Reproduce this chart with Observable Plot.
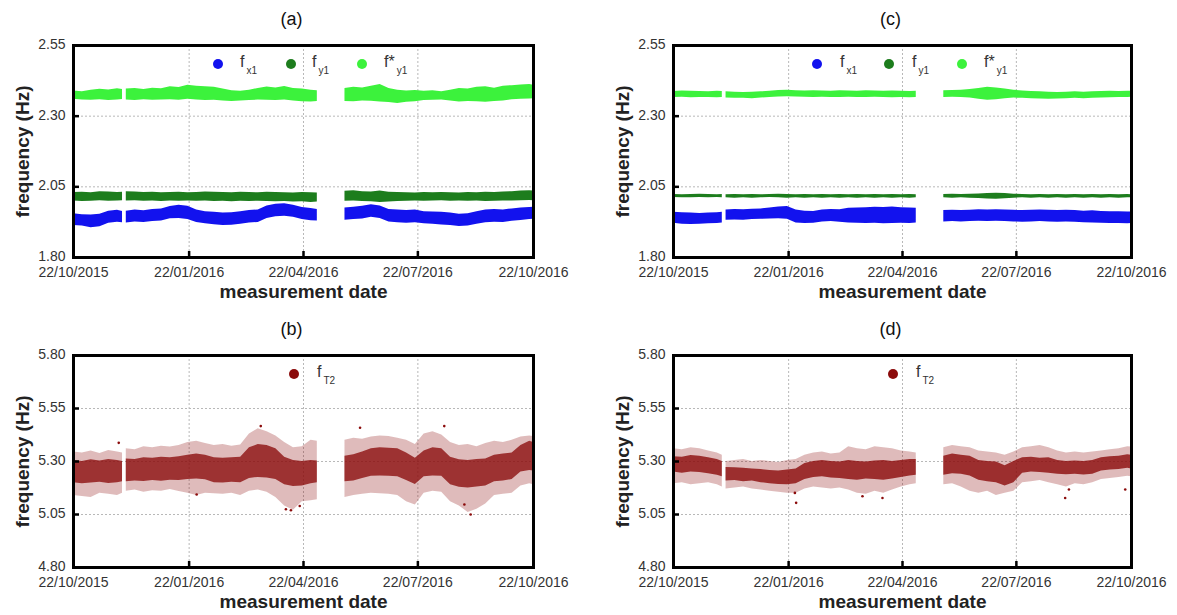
<!DOCTYPE html>
<html><head><meta charset="utf-8">
<script src="https://cdn.jsdelivr.net/npm/d3@7"></script>
<script src="https://cdn.jsdelivr.net/npm/@observablehq/plot@0.6"></script>
<style>
body{margin:0;background:#fff;font-family:"Liberation Sans",Arial,sans-serif;}
#wrap{position:relative;width:1177px;height:615px;overflow:hidden;background:#fff;}
.panel{position:absolute;}
.leg{position:absolute;font-size:16px;line-height:16px;color:#333;white-space:nowrap;}
.leg .s{position:relative;top:7px;font-size:10px;margin-left:2px;}
.dot{position:absolute;width:10px;height:10px;border-radius:50%;}
</style></head><body><div id="wrap"></div>
<script>
// ---------------- data ----------------
const dates = ["2015-10-22","2015-10-29","2015-11-05","2015-11-12","2015-11-19","2015-11-26","2015-11-30","2015-12-01",
"2015-12-03","2015-12-10","2015-12-17","2015-12-24","2015-12-31","2016-01-07","2016-01-14","2016-01-21","2016-01-28",
"2016-02-04","2016-02-11","2016-02-18","2016-02-25","2016-03-03","2016-03-10","2016-03-17","2016-03-24","2016-03-31",
"2016-04-07","2016-04-14","2016-04-21","2016-04-28","2016-05-03","2016-05-14",
"2016-05-25","2016-06-01","2016-06-08","2016-06-15","2016-06-22","2016-06-29","2016-07-06","2016-07-13","2016-07-20",
"2016-07-27","2016-08-03","2016-08-10","2016-08-17","2016-08-24","2016-08-31","2016-09-07","2016-09-14","2016-09-21",
"2016-09-28","2016-10-05","2016-10-12","2016-10-19","2016-10-22"];

const xTickDates = ["2015-10-22","2016-01-22","2016-04-22","2016-07-22","2016-10-22"];
const yTicksTop = [1.80, 2.05, 2.30, 2.55];
const yTicksBottom = [4.80, 5.05, 5.30, 5.55, 5.80];

// panel (a)
const a_fstar_hi = [2.389,2.386,2.392,2.395,2.393,2.397,2.394,null,
2.396,2.398,2.394,2.399,2.397,2.404,2.401,2.409,2.406,2.404,2.402,2.396,2.390,2.388,2.392,2.398,2.403,2.400,2.405,2.398,2.396,2.392,2.390,null,
2.398,2.402,2.400,2.406,2.412,2.398,2.392,2.389,2.391,2.388,2.390,2.386,2.392,2.398,2.396,2.402,2.404,2.399,2.406,2.408,2.410,2.412,2.409];
const a_fstar_lo = [2.360,2.357,2.356,2.358,2.355,2.357,2.359,null,
2.357,2.355,2.358,2.356,2.357,2.358,2.356,2.360,2.357,2.355,2.356,2.354,2.352,2.354,2.355,2.357,2.356,2.355,2.357,2.354,2.351,2.350,2.352,null,
2.352,2.351,2.354,2.353,2.350,2.348,2.345,2.349,2.351,2.355,2.356,2.357,2.354,2.350,2.352,2.351,2.349,2.352,2.354,2.358,2.360,2.361,2.362];
const a_fy1_hi = [2.030,2.031,2.029,2.033,2.032,2.030,2.031,null,
2.033,2.032,2.030,2.031,2.029,2.030,2.031,2.029,2.030,2.032,2.031,2.030,2.029,2.031,2.030,2.029,2.031,2.030,2.029,2.028,2.030,2.029,2.028,null,
2.034,2.036,2.033,2.032,2.035,2.031,2.030,2.029,2.028,2.030,2.029,2.030,2.029,2.028,2.030,2.029,2.031,2.030,2.032,2.033,2.035,2.036,2.035];
const a_fy1_lo = [2.000,1.998,1.999,2.001,1.999,2.000,2.001,null,
2.000,2.001,1.999,2.000,1.998,2.000,1.999,2.000,1.999,2.000,1.998,1.999,1.997,1.999,1.998,1.999,1.998,1.997,1.998,1.996,1.997,1.995,1.996,null,
1.999,2.000,1.998,1.997,1.995,1.996,1.998,1.999,2.000,1.999,2.000,2.001,1.999,2.000,1.999,2.000,1.998,1.999,2.000,2.000,2.001,2.002,2.001];
const a_fx1_hi = [1.955,1.951,1.950,1.953,1.964,1.967,1.963,null,
1.964,1.968,1.965,1.970,1.972,1.980,1.985,1.981,1.968,1.962,1.960,1.957,1.958,1.962,1.966,1.968,1.982,1.988,1.990,1.985,1.977,1.973,1.970,null,
1.975,1.978,1.981,1.987,1.982,1.970,1.968,1.966,1.968,1.962,1.961,1.960,1.957,1.953,1.955,1.962,1.968,1.970,1.968,1.972,1.975,1.977,1.978];
const a_fx1_lo = [1.913,1.911,1.905,1.909,1.921,1.925,1.923,null,
1.922,1.926,1.924,1.927,1.929,1.937,1.938,1.934,1.924,1.919,1.916,1.913,1.914,1.918,1.922,1.924,1.938,1.944,1.946,1.942,1.934,1.930,1.929,null,
1.932,1.934,1.936,1.942,1.938,1.926,1.923,1.921,1.923,1.919,1.918,1.915,1.913,1.910,1.911,1.918,1.923,1.925,1.924,1.928,1.931,1.934,1.935];

// panel (c)
const c_fstar_hi = [2.387,2.389,2.388,2.387,2.386,2.388,2.387,null,
2.386,2.385,2.384,2.385,2.386,2.388,2.391,2.392,2.390,2.389,2.390,2.389,2.388,2.390,2.389,2.388,2.390,2.389,2.388,2.389,2.388,2.387,2.388,null,
2.390,2.391,2.392,2.394,2.398,2.402,2.400,2.396,2.392,2.389,2.387,2.386,2.385,2.384,2.385,2.386,2.385,2.386,2.387,2.388,2.387,2.388,2.388];
const c_fstar_lo = [2.366,2.367,2.365,2.366,2.366,2.365,2.366,null,
2.364,2.363,2.363,2.362,2.364,2.366,2.368,2.369,2.368,2.367,2.366,2.367,2.366,2.366,2.367,2.366,2.366,2.367,2.366,2.365,2.366,2.365,2.366,null,
2.366,2.367,2.366,2.364,2.360,2.356,2.358,2.362,2.364,2.363,2.362,2.361,2.360,2.361,2.362,2.363,2.362,2.363,2.364,2.365,2.366,2.366,2.367];
const c_fy1_hi = [2.023,2.022,2.023,2.024,2.023,2.022,2.023,null,
2.022,2.023,2.022,2.023,2.022,2.023,2.024,2.023,2.022,2.023,2.022,2.023,2.022,2.023,2.022,2.023,2.022,2.023,2.022,2.023,2.022,2.023,2.022,null,
2.023,2.024,2.023,2.024,2.025,2.026,2.027,2.026,2.024,2.023,2.022,2.023,2.022,2.023,2.022,2.023,2.022,2.023,2.022,2.023,2.022,2.023,2.022];
const c_fy1_lo = [2.012,2.011,2.011,2.012,2.011,2.012,2.011,null,
2.011,2.010,2.011,2.010,2.011,2.012,2.011,2.010,2.011,2.010,2.011,2.010,2.011,2.010,2.011,2.010,2.011,2.010,2.011,2.010,2.011,2.010,2.011,null,
2.011,2.010,2.011,2.010,2.009,2.007,2.006,2.008,2.010,2.011,2.010,2.011,2.010,2.011,2.010,2.011,2.010,2.011,2.010,2.011,2.010,2.011,2.011];
const c_fx1_hi = [1.960,1.958,1.957,1.956,1.957,1.958,1.960,null,
1.968,1.970,1.969,1.971,1.972,1.975,1.979,1.980,1.968,1.964,1.963,1.968,1.970,1.969,1.974,1.975,1.976,1.978,1.977,1.979,1.976,1.975,1.974,null,
1.966,1.967,1.966,1.967,1.969,1.968,1.969,1.968,1.967,1.966,1.967,1.968,1.967,1.966,1.967,1.966,1.964,1.965,1.963,1.962,1.962,1.961,1.961];
const c_fx1_lo = [1.921,1.918,1.917,1.918,1.919,1.920,1.922,null,
1.932,1.933,1.932,1.934,1.935,1.936,1.937,1.935,1.922,1.920,1.921,1.926,1.927,1.925,1.922,1.921,1.920,1.921,1.919,1.920,1.921,1.920,1.922,null,
1.926,1.927,1.926,1.927,1.928,1.927,1.928,1.927,1.926,1.925,1.926,1.927,1.926,1.925,1.926,1.925,1.923,1.922,1.921,1.920,1.920,1.919,1.920];

// panel (b)
const b_outer_hi = [5.345,5.340,5.350,5.338,5.352,5.345,5.340,null,
5.360,5.355,5.370,5.365,5.372,5.368,5.375,5.390,5.395,5.385,5.375,5.380,5.372,5.378,5.430,5.455,5.440,5.420,5.390,5.365,5.370,5.400,5.395,null,
5.400,5.410,5.405,5.415,5.420,5.418,5.410,5.400,5.380,5.430,5.440,5.425,5.390,5.375,5.380,5.370,5.385,5.395,5.390,5.400,5.415,5.420,5.418];
const b_core_hi = [5.305,5.300,5.308,5.302,5.310,5.305,5.300,null,
5.312,5.310,5.318,5.315,5.320,5.318,5.322,5.330,5.335,5.330,5.318,5.315,5.318,5.320,5.365,5.380,5.375,5.360,5.320,5.305,5.300,5.305,5.302,null,
5.325,5.332,5.345,5.360,5.365,5.362,5.360,5.340,5.315,5.350,5.365,5.360,5.320,5.308,5.305,5.310,5.312,5.330,5.335,5.340,5.375,5.395,5.390];
const b_core_lo = [5.200,5.195,5.198,5.202,5.196,5.200,5.205,null,
5.205,5.208,5.206,5.210,5.207,5.212,5.210,5.215,5.218,5.214,5.200,5.198,5.202,5.200,5.220,5.225,5.222,5.215,5.190,5.182,5.185,5.195,5.200,null,
5.205,5.208,5.220,5.230,5.232,5.230,5.228,5.210,5.192,5.228,5.232,5.230,5.190,5.178,5.175,5.180,5.185,5.205,5.208,5.215,5.250,5.258,5.255];
const b_outer_lo = [5.140,5.135,5.130,5.150,5.145,5.140,5.150,null,
5.160,5.165,5.155,5.162,5.160,5.168,5.158,5.150,5.140,5.150,5.148,5.145,5.150,5.140,5.160,5.165,5.155,5.130,5.090,5.070,5.110,5.115,5.120,null,
5.130,5.140,5.145,5.150,5.148,5.145,5.140,5.110,5.095,5.150,5.160,5.155,5.110,5.090,5.060,5.075,5.100,5.140,5.145,5.150,5.185,5.195,5.190];
const b_out_dates = ["2015-11-27","2016-01-28","2016-03-19","2016-04-08","2016-04-12","2016-04-19","2016-06-06","2016-08-12","2016-08-28","2016-09-02"];
const b_out_vals = [5.388,5.144,5.467,5.075,5.070,5.090,5.459,5.467,5.097,5.050];

// panel (d)
const d_outer_hi = [5.360,5.355,5.365,5.360,5.350,5.340,5.330,null,
5.300,5.305,5.310,5.300,5.305,5.300,5.295,5.305,5.310,5.330,5.340,5.345,5.335,5.340,5.370,5.360,5.355,5.370,5.365,5.360,5.350,5.345,5.340,null,
5.365,5.375,5.370,5.365,5.350,5.345,5.340,5.330,5.345,5.365,5.370,5.375,5.365,5.350,5.340,5.345,5.340,5.345,5.350,5.355,5.360,5.370,5.368];
const d_core_hi = [5.322,5.320,5.328,5.325,5.318,5.310,5.300,null,
5.272,5.270,5.268,5.265,5.262,5.258,5.255,5.260,5.265,5.290,5.300,5.305,5.300,5.298,5.305,5.300,5.298,5.302,5.305,5.300,5.305,5.310,5.310,null,
5.325,5.335,5.330,5.325,5.305,5.300,5.298,5.280,5.300,5.318,5.320,5.315,5.318,5.305,5.300,5.302,5.300,5.305,5.318,5.322,5.325,5.332,5.330];
const d_core_lo = [5.250,5.245,5.250,5.248,5.242,5.235,5.228,null,
5.208,5.210,5.205,5.208,5.200,5.195,5.192,5.190,5.195,5.215,5.225,5.228,5.222,5.220,5.215,5.212,5.218,5.215,5.212,5.218,5.225,5.232,5.235,null,
5.235,5.242,5.240,5.232,5.212,5.205,5.200,5.185,5.200,5.245,5.250,5.248,5.245,5.240,5.238,5.240,5.236,5.240,5.255,5.260,5.262,5.268,5.265];
const d_outer_lo = [5.195,5.200,5.190,5.195,5.200,5.190,5.180,null,
5.170,5.175,5.180,5.170,5.165,5.160,5.155,5.150,5.150,5.170,5.180,5.175,5.170,5.175,5.165,5.150,5.145,5.160,5.150,5.165,5.180,5.190,5.195,null,
5.190,5.195,5.180,5.160,5.150,5.160,5.140,5.150,5.160,5.200,5.205,5.210,5.200,5.190,5.180,5.195,5.190,5.200,5.215,5.220,5.225,5.230,5.228];
const d_out_dates = ["2016-01-27","2016-01-28","2016-03-21","2016-04-06","2016-08-30","2016-09-02","2016-10-17"];
const d_out_vals = [5.152,5.105,5.136,5.128,5.128,5.168,5.168];

// ---------------- styling ----------------
const C = {fx1: "#1212ee", fy1: "#1d7d1d", fstar: "#3cf23c", fT2: "#8b0b0b"};
const FONT = "'Liberation Sans', Arial, sans-serif";
const parse = d3.utcParse("%Y-%m-%d");
const fmtDate = d3.utcFormat("%d/%m/%Y");
const xTicks = xTickDates.map(parse);

function rows(lo, hi) { return dates.map((d, i) => ({date: parse(d), lo: lo[i], hi: hi[i]})); }
function pts(ds, vs) { return ds.map((d, i) => ({date: parse(d), v: vs[i]})); }

function makePanel(cfg) {
  const yT = cfg.yTicks;
  const marks = [
    Plot.gridX(xTicks.slice(1, -1), {stroke: "#b8b8b8", strokeOpacity: 1, strokeDasharray: "2,2"}),
    Plot.gridY(yT.slice(1, -1), {stroke: "#b8b8b8", strokeOpacity: 1, strokeDasharray: "2,2"})
  ];
  for (const b of cfg.bands) {
    marks.push(Plot.areaY(rows(b.lo, b.hi), {x: "date", y1: "lo", y2: "hi", fill: b.color, fillOpacity: b.opacity, curve: "linear"}));
  }
  if (cfg.outliers) marks.push(Plot.dot(cfg.outliers.data, {x: "date", y: "v", r: 1.3, fill: cfg.outliers.color, stroke: "none"}));
  marks.push(
    Plot.axisX(xTicks, {tickSize: 0, tickPadding: 10, tickFormat: fmtDate, fill: "#333", label: null}),
    Plot.axisX(xTicks, {tickSize: 6, dy: -6, tickFormat: () => "", strokeWidth: 2.5, label: null}),
    Plot.axisY(yT, {tickSize: 0, tickPadding: 8, dy: -1, tickFormat: d3.format(".2f"), fill: "#333", label: null}),
    Plot.axisY(yT, {tickSize: 6, dx: 6, tickFormat: () => "", strokeWidth: 2.5, label: null}),
    Plot.frame({stroke: "black", strokeWidth: 3}),
    Plot.text([cfg.title], {text: d => d, frameAnchor: "top", dy: -26, dx: -12, textAnchor: "middle", lineAnchor: "middle", fontSize: 18, fill: "#111"}),
    Plot.text(["measurement date"], {text: d => d, frameAnchor: "bottom", dy: 34, textAnchor: "middle", lineAnchor: "middle", fontSize: 19, fontWeight: "bold", fill: "#222"}),
    Plot.text(["frequency (Hz)"], {text: d => d, frameAnchor: "left", dx: -51, rotate: -90, textAnchor: "middle", lineAnchor: "middle", fontSize: 19, fontWeight: "bold", fill: "#222"})
  );
  const svg = Plot.plot({
    width: cfg.width, height: 305,
    marginLeft: cfg.ml, marginRight: cfg.mr, marginTop: 45, marginBottom: 48,
    x: {type: "utc", domain: [xTicks[0], xTicks[xTicks.length - 1]]},
    y: {domain: [yT[0], yT[yT.length - 1]]},
    style: {fontFamily: FONT, fontSize: "14px", background: "transparent", overflow: "visible"},
    marks
  });
  const div = document.createElement("div");
  div.className = "panel";
  div.style.left = cfg.left + "px";
  div.style.top = cfg.top + "px";
  div.appendChild(svg);
  document.getElementById("wrap").appendChild(div);
}

function addLegend(items, cy) {
  const wrap = document.getElementById("wrap");
  for (const it of items) {
    const dot = document.createElement("div");
    dot.className = "dot";
    dot.style.background = it.color;
    dot.style.left = (it.cx - 5) + "px";
    dot.style.top = (cy - 5) + "px";
    wrap.appendChild(dot);
    const t = document.createElement("div");
    t.className = "leg";
    t.style.left = it.tx + "px";
    t.style.top = (cy - 10) + "px";
    t.innerHTML = it.main + '<span class="s">' + it.sub + "</span>";
    wrap.appendChild(t);
  }
}

makePanel({title: "(a)", left: 0, top: 0, width: 590, ml: 73, mr: 57, yTicks: yTicksTop,
  bands: [
    {lo: a_fstar_lo, hi: a_fstar_hi, color: C.fstar, opacity: 1},
    {lo: a_fy1_lo, hi: a_fy1_hi, color: C.fy1, opacity: 1},
    {lo: a_fx1_lo, hi: a_fx1_hi, color: C.fx1, opacity: 1}
  ]});
makePanel({title: "(c)", left: 590, top: 0, width: 587, ml: 83, mr: 46, yTicks: yTicksTop,
  bands: [
    {lo: c_fstar_lo, hi: c_fstar_hi, color: C.fstar, opacity: 1},
    {lo: c_fy1_lo, hi: c_fy1_hi, color: C.fy1, opacity: 1},
    {lo: c_fx1_lo, hi: c_fx1_hi, color: C.fx1, opacity: 1}
  ]});
makePanel({title: "(b)", left: 0, top: 310, width: 590, ml: 73, mr: 57, yTicks: yTicksBottom,
  bands: [
    {lo: b_outer_lo, hi: b_outer_hi, color: C.fT2, opacity: 0.28},
    {lo: b_core_lo, hi: b_core_hi, color: C.fT2, opacity: 0.78}
  ],
  outliers: {data: pts(b_out_dates, b_out_vals), color: C.fT2}});
makePanel({title: "(d)", left: 590, top: 310, width: 587, ml: 83, mr: 46, yTicks: yTicksBottom,
  bands: [
    {lo: d_outer_lo, hi: d_outer_hi, color: C.fT2, opacity: 0.28},
    {lo: d_core_lo, hi: d_core_hi, color: C.fT2, opacity: 0.8}
  ],
  outliers: {data: pts(d_out_dates, d_out_vals), color: C.fT2}});

addLegend([
  {color: C.fx1, cx: 218, tx: 240, main: "f", sub: "x1"},
  {color: C.fy1, cx: 291, tx: 312, main: "f", sub: "y1"},
  {color: C.fstar, cx: 362, tx: 384, main: "f*", sub: "y1"}
], 64);
addLegend([
  {color: C.fx1, cx: 817, tx: 840, main: "f", sub: "x1"},
  {color: C.fy1, cx: 889, tx: 912, main: "f", sub: "y1"},
  {color: C.fstar, cx: 962, tx: 984, main: "f*", sub: "y1"}
], 64);
addLegend([{color: C.fT2, cx: 294, tx: 317, main: "f", sub: "T2"}], 374);
addLegend([{color: C.fT2, cx: 893, tx: 916, main: "f", sub: "T2"}], 374);
</script></body></html>
